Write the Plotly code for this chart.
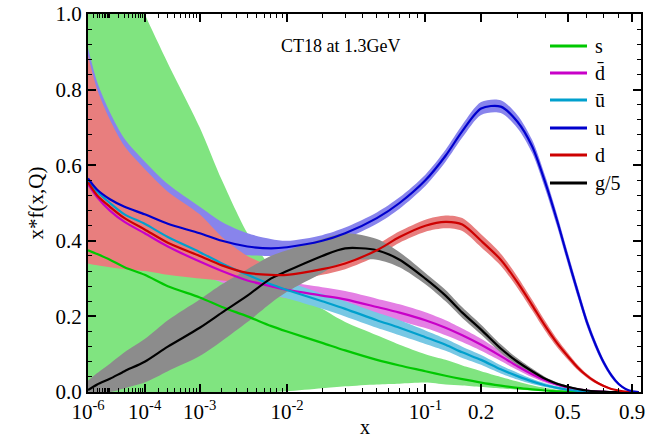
import plotly.graph_objects as go

# ---------------- data ----------------
X = [1e-6, 3e-6, 1e-5, 3e-5, 1e-4, 3e-4, 1e-3, 2e-3, 4e-3, 7e-3, 0.01, 0.02, 0.03, 0.05, 0.07,
     0.1, 0.13, 0.16, 0.2, 0.25, 0.3, 0.35, 0.4, 0.45, 0.5, 0.55, 0.6, 0.65, 0.7, 0.75, 0.8,
     0.85, 0.9, 0.95]

u = [0.565, 0.535, 0.51, 0.49, 0.47, 0.445, 0.42, 0.40, 0.385, 0.38, 0.383, 0.40, 0.42, 0.46, 0.50,
     0.56, 0.625, 0.69, 0.75, 0.755, 0.715, 0.65, 0.555, 0.455, 0.355, 0.265, 0.185, 0.125, 0.078, 0.044,
     0.021, 0.008, 0.002, 0.0]
u_hi = [0.91, 0.82, 0.74, 0.67, 0.61, 0.55, 0.49, 0.45, 0.42, 0.405, 0.40, 0.415, 0.435, 0.475, 0.515,
        0.575, 0.641, 0.707, 0.767, 0.772, 0.732, 0.667, 0.572, 0.471, 0.37, 0.279, 0.197, 0.135, 0.086,
        0.05, 0.025, 0.01, 0.003, 0.0]
u_lo = [0.34, 0.35, 0.36, 0.37, 0.38, 0.375, 0.37, 0.365, 0.362, 0.36, 0.365, 0.385, 0.405, 0.445, 0.485,
        0.545, 0.609, 0.673, 0.733, 0.738, 0.698, 0.633, 0.538, 0.439, 0.34, 0.251, 0.173, 0.115, 0.07,
        0.038, 0.017, 0.006, 0.001, 0.0]

d = [0.555, 0.52, 0.49, 0.46, 0.43, 0.395, 0.36, 0.335, 0.315, 0.31, 0.31, 0.325, 0.34, 0.375, 0.41,
     0.44, 0.45, 0.443, 0.40, 0.35, 0.29, 0.23, 0.175, 0.13, 0.095, 0.065, 0.043, 0.027, 0.016, 0.008,
     0.004, 0.001, 0.0, 0.0]
d_hi = [0.89, 0.80, 0.72, 0.65, 0.59, 0.53, 0.47, 0.41, 0.36, 0.335, 0.33, 0.34, 0.355, 0.39, 0.425,
        0.456, 0.467, 0.46, 0.417, 0.366, 0.305, 0.244, 0.188, 0.141, 0.104, 0.072, 0.048, 0.031, 0.019,
        0.01, 0.005, 0.002, 0.0, 0.0]
d_lo = [0.34, 0.335, 0.33, 0.325, 0.32, 0.31, 0.30, 0.295, 0.29, 0.29, 0.29, 0.31, 0.325, 0.36, 0.395,
        0.424, 0.433, 0.426, 0.383, 0.334, 0.275, 0.216, 0.162, 0.119, 0.086, 0.058, 0.038, 0.023, 0.013,
        0.006, 0.003, 0.0, 0.0, 0.0]

g5 = [0.005, 0.02, 0.035, 0.055, 0.08, 0.12, 0.17, 0.21, 0.255, 0.30, 0.32, 0.36, 0.38, 0.375, 0.35,
      0.30, 0.255, 0.21, 0.165, 0.115, 0.08, 0.055, 0.035, 0.022, 0.014, 0.008, 0.004, 0.002, 0.001,
      0.0, 0.0, 0.0, 0.0, 0.0]
g5_hi = [0.03, 0.05, 0.075, 0.105, 0.14, 0.19, 0.245, 0.285, 0.325, 0.36, 0.375, 0.405, 0.42, 0.405, 0.37,
         0.315, 0.27, 0.224, 0.178, 0.126, 0.089, 0.062, 0.04, 0.026, 0.017, 0.01, 0.005, 0.003, 0.001,
         0.0, 0.0, 0.0, 0.0, 0.0]
g5_lo = [0.0, 0.0, 0.0, 0.01, 0.025, 0.055, 0.095, 0.135, 0.185, 0.235, 0.265, 0.315, 0.345, 0.35, 0.33,
         0.285, 0.24, 0.196, 0.152, 0.104, 0.071, 0.048, 0.03, 0.018, 0.011, 0.006, 0.003, 0.001, 0.0,
         0.0, 0.0, 0.0, 0.0, 0.0]

s = [0.375, 0.365, 0.35, 0.33, 0.31, 0.28, 0.25, 0.225, 0.20, 0.175, 0.16, 0.13, 0.11, 0.085, 0.07,
     0.055, 0.043, 0.034, 0.025, 0.017, 0.011, 0.007, 0.004, 0.002, 0.001, 0.0, 0.0, 0.0, 0.0, 0.0,
     0.0, 0.0, 0.0, 0.0]
s_hi = [1.6, 1.4, 1.25, 1.12, 1.0, 0.87, 0.7, 0.56, 0.42, 0.33, 0.28, 0.22, 0.185, 0.15, 0.125,
        0.1, 0.085, 0.07, 0.055, 0.04, 0.028, 0.018, 0.011, 0.006, 0.003, 0.001, 0.0, 0.0, 0.0, 0.0,
        0.0, 0.0, 0.0, 0.0]
s_lo = [0.0, 0.0, 0.0, 0.0, 0.0, 0.0, 0.0, 0.0, 0.0, 0.0, 0.002, 0.01, 0.015, 0.02, 0.022,
        0.025, 0.02, 0.017, 0.013, 0.009, 0.006, 0.004, 0.002, 0.001, 0.0, 0.0, 0.0, 0.0, 0.0, 0.0,
        0.0, 0.0, 0.0, 0.0]

ubar = [0.56, 0.53, 0.50, 0.47, 0.445, 0.41, 0.37, 0.34, 0.31, 0.285, 0.27, 0.24, 0.22, 0.19, 0.17,
        0.145, 0.125, 0.105, 0.085, 0.06, 0.042, 0.028, 0.018, 0.011, 0.006, 0.003, 0.001, 0.0, 0.0,
        0.0, 0.0, 0.0, 0.0, 0.0]
ubar_hi = [0.75, 0.70, 0.66, 0.61, 0.56, 0.49, 0.42, 0.38, 0.34, 0.31, 0.292, 0.26, 0.24, 0.21, 0.19,
           0.163, 0.141, 0.12, 0.098, 0.071, 0.051, 0.035, 0.023, 0.015, 0.009, 0.005, 0.002, 0.001,
           0.0, 0.0, 0.0, 0.0, 0.0, 0.0]
ubar_lo = [0.38, 0.39, 0.39, 0.39, 0.38, 0.36, 0.33, 0.305, 0.28, 0.26, 0.248, 0.22, 0.20, 0.17, 0.15,
           0.127, 0.109, 0.09, 0.072, 0.049, 0.033, 0.021, 0.013, 0.007, 0.003, 0.001, 0.0, 0.0, 0.0,
           0.0, 0.0, 0.0, 0.0, 0.0]

dbar = [0.55, 0.515, 0.48, 0.45, 0.42, 0.385, 0.345, 0.32, 0.295, 0.28, 0.27, 0.255, 0.245, 0.225, 0.21,
        0.19, 0.17, 0.15, 0.125, 0.095, 0.068, 0.047, 0.031, 0.02, 0.012, 0.007, 0.004, 0.002, 0.001,
        0.0, 0.0, 0.0, 0.0, 0.0]
dbar_hi = [0.74, 0.69, 0.64, 0.59, 0.54, 0.47, 0.40, 0.36, 0.33, 0.305, 0.292, 0.277, 0.267, 0.247, 0.232,
           0.211, 0.19, 0.168, 0.141, 0.108, 0.078, 0.055, 0.037, 0.024, 0.015, 0.009, 0.005, 0.003,
           0.001, 0.0, 0.0, 0.0, 0.0, 0.0]
dbar_lo = [0.37, 0.37, 0.37, 0.37, 0.36, 0.34, 0.31, 0.29, 0.27, 0.255, 0.248, 0.233, 0.223, 0.203, 0.188,
           0.169, 0.15, 0.132, 0.109, 0.082, 0.058, 0.039, 0.025, 0.016, 0.009, 0.005, 0.003, 0.001,
           0.0, 0.0, 0.0, 0.0, 0.0, 0.0]

legend_names = ["s", "d\u0304", "u\u0304", "u", "d", "g/5"]

x_major = [1e-6, 1e-4, 1e-3, 1e-2, 1e-1, 0.2, 0.5, 0.9]
x_major_text = ["10<sup>-6</sup>", "10<sup>-4</sup>", "10<sup>-3</sup>", "10<sup>-2</sup>",
                "10<sup>-1</sup>", "0.2", "0.5", "0.9"]
x_minor = ([k * 1e-6 for k in range(2, 10)] + [k * 1e-5 for k in range(1, 10)] +
           [k * 1e-4 for k in range(2, 10)] + [k * 1e-3 for k in range(2, 10)] +
           [k * 1e-2 for k in range(2, 10)] + [0.3, 0.4, 0.6, 0.7, 0.8])

# ---------------- x-axis scale: x^0.2 ----------------
POW = 0.2


def tr(vals):
    return [v ** POW for v in vals]


T = tr(X)
FONT = "Liberation Serif, Times New Roman, serif"

# plot-area geometry (pixels)
W, H = 658, 440
ML, MR, MT, MB = 88, 17, 14, 48
PW, PH = W - ML - MR, H - MT - MB

fig = go.Figure()


def band(lo, hi, color):
    fig.add_trace(go.Scatter(
        x=T + T[::-1], y=hi + lo[::-1], fill="toself", fillcolor=color,
        line=dict(width=0, shape="spline", smoothing=0.8), mode="lines",
        showlegend=False, hoverinfo="skip"))


band(s_lo, s_hi, "rgb(128,228,128)")
band(dbar_lo, dbar_hi, "rgb(228,128,228)")
band(ubar_lo, ubar_hi, "rgb(120,200,228)")
band(u_lo, u_hi, "rgb(136,132,236)")
band(d_lo, d_hi, "rgb(232,126,126)")
band(g5_lo, g5_hi, "rgb(140,140,140)")

COL = {"s": "rgb(0,200,0)", "dbar": "rgb(200,0,200)", "ubar": "rgb(0,160,205)",
       "u": "rgb(0,0,205)", "d": "rgb(205,0,0)", "g5": "rgb(0,0,0)"}

for key, ys in [("s", s), ("dbar", dbar), ("ubar", ubar), ("g5", g5), ("d", d), ("u", u)]:
    fig.add_trace(go.Scatter(
        x=T, y=ys, mode="lines", showlegend=False,
        line=dict(color=COL[key], width=2.2, shape="spline", smoothing=0.8)))

# manual legend (rows in pixel space converted to paper coordinates)
leg_keys = ["s", "dbar", "ubar", "u", "d", "g5"]
row_px = [46, 73, 100, 128, 155, 183]
for key, name, py in zip(leg_keys, legend_names, row_px):
    yp = (H - MB - py) / PH
    fig.add_shape(type="line", xref="paper", yref="paper",
                  x0=(550 - ML) / PW, x1=(587 - ML) / PW, y0=yp, y1=yp,
                  line=dict(color=COL[key], width=3))
    fig.add_annotation(x=(593 - ML) / PW, y=yp, xref="paper", yref="paper", text=name,
                       showarrow=False, xanchor="left", yanchor="middle",
                       font=dict(family=FONT, size=20, color="black"))

fig.add_annotation(x=(340 - ML) / PW, y=(H - MB - 46) / PH, xref="paper", yref="paper",
                   text="CT18 at 1.3GeV", showarrow=False, xanchor="center", yanchor="middle",
                   font=dict(family=FONT, size=18, color="black"))

# x-axis title placed explicitly (centre of plot, near bottom edge)
fig.add_annotation(x=0.5, y=(H - MB - 427) / PH, xref="paper", yref="paper", text="x",
                   showarrow=False, xanchor="center", yanchor="middle",
                   font=dict(family=FONT, size=20, color="black"))

fig.update_layout(
    width=W, height=H,
    margin=dict(l=ML, r=MR, t=MT, b=MB, autoexpand=False),
    paper_bgcolor="white", plot_bgcolor="white",
    font=dict(family=FONT, color="black"),
    showlegend=False,
)

fig.update_xaxes(
    range=[(1e-6) ** POW, 0.97 ** POW], tickmode="array", tickvals=tr(x_major),
    ticktext=x_major_text, ticks="inside", ticklen=8, tickwidth=1.5, tickcolor="black",
    showline=True, linewidth=2, linecolor="black", mirror="ticks", showgrid=False, zeroline=False,
    tickfont=dict(family=FONT, size=21), automargin=False,
    minor=dict(tickmode="array", tickvals=tr(x_minor), ticks="inside", ticklen=4, tickwidth=1.2,
               tickcolor="black", showgrid=False),
)
fig.update_yaxes(
    range=[0, 1.0], tickmode="linear", tick0=0, dtick=0.2, tickformat=".1f",
    ticks="inside", ticklen=8, tickwidth=1.5, tickcolor="black",
    showline=True, linewidth=2, linecolor="black", mirror="ticks", showgrid=False, zeroline=False,
    tickfont=dict(family=FONT, size=21), automargin=False,
    minor=dict(dtick=0.04, ticks="inside", ticklen=4, tickwidth=1.2, tickcolor="black", showgrid=False),
    title=dict(text="x*f(x,Q)", font=dict(family=FONT, size=21), standoff=6),
)

fig.write_html("out.html")
